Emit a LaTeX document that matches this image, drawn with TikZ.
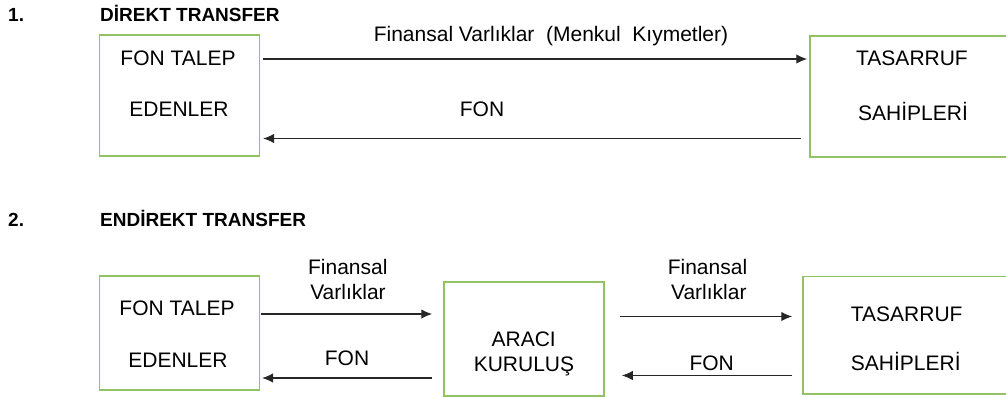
\documentclass[tikz,border=0pt]{standalone}
\usepackage{fontspec}
\setmainfont{Liberation Sans}
\usetikzlibrary{arrows.meta}
\definecolor{kutuyesil}{RGB}{146,194,97}
\tikzset{
  kutu/.style={draw=kutuyesil, line width=1.5pt, inner sep=0pt},
  yazi/.style={anchor=base, inner sep=0pt, font=\fontsize{21}{25}\selectfont},
  baslik/.style={anchor=base west, inner sep=0pt, font=\fontsize{19}{23}\selectfont\bfseries},
  ok/.style={draw=black!85, line width=1.3pt, -{Latex[length=11pt,width=9.5pt]}},
}

\begin{document}
\begin{tikzpicture}[x=1pt, y=-1pt]
        \useasboundingbox (0,0) rectangle (1006,397);
        % 1. direkt transfer
        \node[baslik] (no1) at (8,21.5) {1.};
        \node[baslik] (baslik1) at (100,21.5) {DİREKT TRANSFER};
        \node[kutu, minimum width=160pt, minimum height=121pt] (talep1) at (179.3,95.3) {};
        \node[kutu, minimum width=200pt, minimum height=121pt] (tasarruf1) at (910,96.3) {};
        \node[yazi] (talep1a) at (178,65) {FON TALEP};
        \node[yazi] (talep1b) at (179,116.7) {EDENLER};
        \node[yazi] (tasarruf1a) at (912,65) {TASARRUF};
        \node[yazi] (tasarruf1b) at (913,120) {SAHİPLERİ};
        \node[yazi] (varlik1) at (551,41.7) {Finansal Varlıklar \ (Menkul \ Kıymetler)};
        \node[yazi] (fon1) at (482,116) {FON};
        \coordinate (ust1) at (0,59);
        \coordinate (alt1) at (0,138.5);
        \draw[ok, shorten <=2.5pt, shorten >=2pt] (talep1.east |- ust1) -- (tasarruf1.west |- ust1);
        \draw[ok, shorten <=8pt, shorten >=3pt] (tasarruf1.west |- alt1) -- (talep1.east |- alt1);
        % 2. endirekt transfer
        \node[baslik] (no2) at (8,226) {2.};
        \node[baslik] (baslik2) at (100,226) {ENDİREKT TRANSFER};
        \node[kutu, minimum width=160pt, minimum height=114pt] (talep2) at (179.3,333) {};
        \node[kutu, minimum width=160pt, minimum height=114pt] (araci) at (524,339) {};
        \node[kutu, minimum width=207pt, minimum height=117.3pt] (tasarruf2) at (906.5,335.3) {};
        \node[yazi] (talep2a) at (177,315) {FON TALEP};
        \node[yazi] (talep2b) at (178,367.7) {EDENLER};
        \node[yazi] (aracia) at (523.7,346) {ARACI};
        \node[yazi] (aracib) at (524,371.5) {KURULUŞ};
        \node[yazi] (tasarruf2a) at (906.7,321.7) {TASARRUF};
        \node[yazi] (tasarruf2b) at (905.8,370.7) {SAHİPLERİ};
        \node[yazi] (varlik2a) at (347.8,274.3) {Finansal};
        \node[yazi] (varlik2b) at (348,299.3) {Varlıklar};
        \node[yazi] (fon2) at (347,365) {FON};
        \node[yazi] (varlik3a) at (707.5,274) {Finansal};
        \node[yazi] (varlik3b) at (708.8,299.3) {Varlıklar};
        \node[yazi] (fon3) at (711.7,370) {FON};
        \coordinate (ust2) at (0,314);
        \coordinate (alt2) at (0,378);
        \coordinate (ust3) at (0,316.5);
        \coordinate (alt3) at (0,375.5);
        \draw[ok, shorten <=0.5pt, shorten >=11pt] (talep2.east |- ust2) -- (araci.west |- ust2);
        \draw[ok, shorten <=11pt, shorten >=2pt] (araci.west |- alt2) -- (talep2.east |- alt2);
        \draw[ok, shorten <=15pt, shorten >=10pt] (araci.east |- ust3) -- (tasarruf2.west |- ust3);
        \draw[ok, shorten <=10pt, shorten >=17pt] (tasarruf2.west |- alt3) -- (araci.east |- alt3);
\end{tikzpicture}
\end{document}
